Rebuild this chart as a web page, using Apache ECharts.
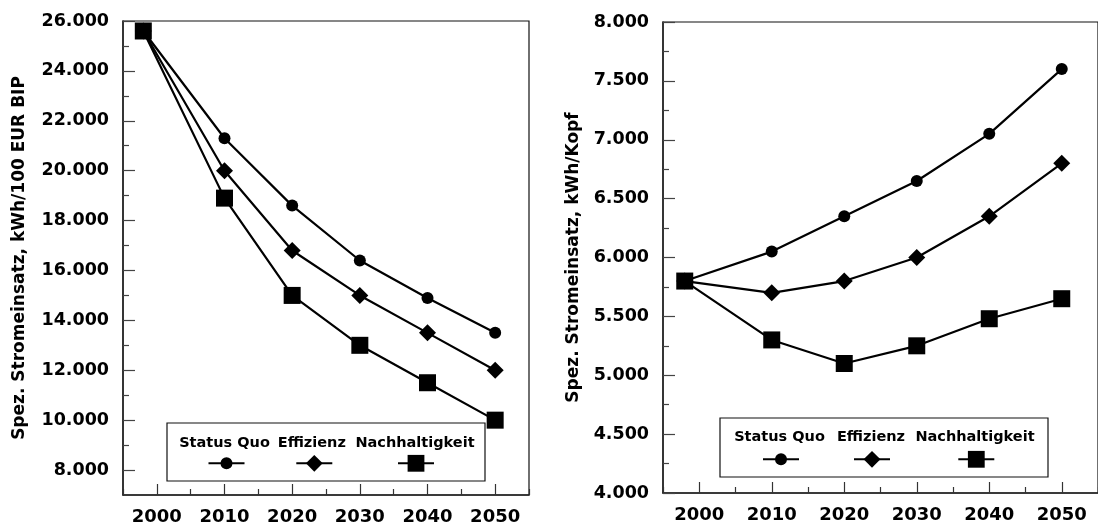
<!DOCTYPE html>
<html>
<head>
<meta charset="utf-8">
<script src="https://cdn.jsdelivr.net/npm/echarts@6/dist/echarts.min.js"></script>
<style>
html,body{margin:0;padding:0;background:#fff;}
#chart{width:1098px;height:526px;}
</style>
</head>
<body>
<div id="chart"></div>
<script>
// ---- data ----
const years = [1998, 2010, 2020, 2030, 2040, 2050];
const seriesNames = ['Status Quo', 'Effizienz', 'Nachhaltigkeit'];
const leftStatusQuo = [25600, 21300, 18600, 16400, 14900, 13500];
const leftEffizienz = [25600, 20000, 16800, 15000, 13500, 12000];
const leftNachhaltigkeit = [25600, 18900, 15000, 13000, 11500, 10000];
const rightStatusQuo = [5800, 6050, 6350, 6650, 7050, 7600];
const rightEffizienz = [5800, 5700, 5800, 6000, 6350, 6800];
const rightNachhaltigkeit = [5800, 5300, 5100, 5250, 5480, 5650];
const xTickLabels = [2000, 2010, 2020, 2030, 2040, 2050];
const xMinorTicks = [1995, 2005, 2015, 2025, 2035, 2045, 2055];
const leftYTickLabels = [8000, 10000, 12000, 14000, 16000, 18000, 20000, 22000, 24000, 26000];
const leftYMinorTicks = [9000, 11000, 13000, 15000, 17000, 19000, 21000, 23000, 25000];
const rightYTickLabels = [4000, 4500, 5000, 5500, 6000, 6500, 7000, 7500, 8000];
const rightYMinorTicks = [4250, 4750, 5250, 5750, 6250, 6750, 7250, 7750];
const leftYTitle = 'Spez. Stromeinsatz, kWh/100 EUR BIP';
const rightYTitle = 'Spez. Stromeinsatz, kWh/Kopf';

// ---- styles ----
const FONT = 'DejaVu Sans';
const symbols = ['circle', 'diamond', 'rect'];
const symbolSizes = [12, 17, 17];
const legendHeights = [15, 21, 21];
const fmtThousand = v => (v / 1000).toFixed(3);

const chart = echarts.init(document.getElementById('chart'), null, {renderer: 'canvas'});

const grids = [
  {left: 123, top: 21, width: 406, height: 476, show: true, borderColor: '#111', borderWidth: 1.2, backgroundColor: 'transparent'},
  {left: 663, top: 22, width: 441, height: 471, show: true, borderColor: '#111', borderWidth: 1.2, backgroundColor: 'transparent'}
];

function xAxes(gi) {
  return [
    {
      type: 'value', gridIndex: gi, position: 'bottom', min: 1995, max: 2055,
      axisLine: {show: true, onZero: false, lineStyle: {color: '#222', width: 1.5}},
      axisTick: {show: true, inside: true, length: 11, customValues: xTickLabels, lineStyle: {color: '#333', width: 1.2}},
      axisLabel: {show: true, customValues: xTickLabels, margin: 13, formatter: v => String(v), color: '#000', fontFamily: FONT, fontWeight: 'bold', fontSize: 18},
      splitLine: {show: false}
    },
    {
      type: 'value', gridIndex: gi, position: 'bottom', min: 1995, max: 2055,
      axisLine: {show: false},
      axisTick: {show: true, inside: true, length: 6, customValues: xMinorTicks, lineStyle: {color: '#333', width: 1.2}},
      axisLabel: {show: false},
      splitLine: {show: false}
    }
  ];
}

function yAxes(gi, min, max, labels, minor, title, gap) {
  return [
    {
      type: 'value', gridIndex: gi, position: 'left', min: min, max: max,
      name: title, nameLocation: 'middle', nameGap: gap, nameRotate: 90,
      nameTextStyle: {color: '#000', fontFamily: FONT, fontWeight: 'bold', fontSize: 17},
      axisLine: {show: true, onZero: false, lineStyle: {color: '#222', width: 1.5}},
      axisTick: {show: true, inside: true, length: 12, customValues: labels, lineStyle: {color: '#444', width: 1.2}},
      axisLabel: {show: true, customValues: labels, margin: 14, formatter: fmtThousand, color: '#000', fontFamily: FONT, fontWeight: 'bold', fontSize: 17.5},
      splitLine: {show: false}
    },
    {
      type: 'value', gridIndex: gi, position: 'left', min: min, max: max,
      axisLine: {show: false},
      axisTick: {show: true, inside: true, length: 6, customValues: minor, lineStyle: {color: '#444', width: 1.2}},
      axisLabel: {show: false},
      splitLine: {show: false}
    }
  ];
}

function pairs(vals) { return years.map((y, i) => [y, vals[i]]); }

function mkSeries(name, idx, gi, vals) {
  return {
    name: name, type: 'line', xAxisIndex: gi * 2, yAxisIndex: gi * 2,
    data: pairs(vals), symbol: symbols[idx], symbolSize: symbolSizes[idx],
    lineStyle: {color: '#000', width: 2.2}, itemStyle: {color: '#000'},
    animation: false, z: 3 + idx
  };
}

function mkLegend(name, idx, cx, cy) {
  const h = legendHeights[idx];
  return {
    data: [name], left: cx - 18, top: cy - h / 2, itemWidth: 36, itemHeight: h,
    padding: 0, formatter: () => '', textStyle: {fontSize: 1}, selectedMode: false, z: 6
  };
}

const legendTextStyle = {font: 'bold 14.5px "' + FONT + '"', fill: '#000', textAlign: 'center', textVerticalAlign: 'middle'};
const leftLegendTextX = [224.5, 311.8, 415];
const leftLegendIconX = [225.5, 313.3, 415];
const rightLegendTextX = [779.5, 871, 975];
const rightLegendIconX = [780, 871, 975.3];

const option = {
  backgroundColor: '#fff',
  animation: false,
  grid: grids,
  xAxis: [...xAxes(0), ...xAxes(1)],
  yAxis: [
    ...yAxes(0, 7000, 26000, leftYTickLabels, leftYMinorTicks, leftYTitle, 95),
    ...yAxes(1, 4000, 8000, rightYTickLabels, rightYMinorTicks, rightYTitle, 81)
  ],
  legend: [
    ...seriesNames.map((n, i) => mkLegend(n, i, leftLegendIconX[i], 463.3)),
    ...seriesNames.map((n, i) => mkLegend(n, i, rightLegendIconX[i], 459.3))
  ],
  graphic: [
    {type: 'rect', z: 1, shape: {x: 167, y: 423, width: 318, height: 58}, style: {fill: '#fff', stroke: '#111', lineWidth: 1.2}},
    {type: 'rect', z: 1, shape: {x: 720, y: 418, width: 328, height: 59}, style: {fill: '#fff', stroke: '#111', lineWidth: 1.2}},
    ...seriesNames.map((n, i) => ({type: 'text', z: 2, x: leftLegendTextX[i], y: 443.3, style: Object.assign({text: n}, legendTextStyle)})),
    ...seriesNames.map((n, i) => ({type: 'text', z: 2, x: rightLegendTextX[i], y: 437.3, style: Object.assign({text: n}, legendTextStyle)}))
  ],
  series: [
    mkSeries(seriesNames[0], 0, 0, leftStatusQuo),
    mkSeries(seriesNames[1], 1, 0, leftEffizienz),
    mkSeries(seriesNames[2], 2, 0, leftNachhaltigkeit),
    mkSeries(seriesNames[0], 0, 1, rightStatusQuo),
    mkSeries(seriesNames[1], 1, 1, rightEffizienz),
    mkSeries(seriesNames[2], 2, 1, rightNachhaltigkeit)
  ]
};
chart.setOption(option);
</script>
</body>
</html>
